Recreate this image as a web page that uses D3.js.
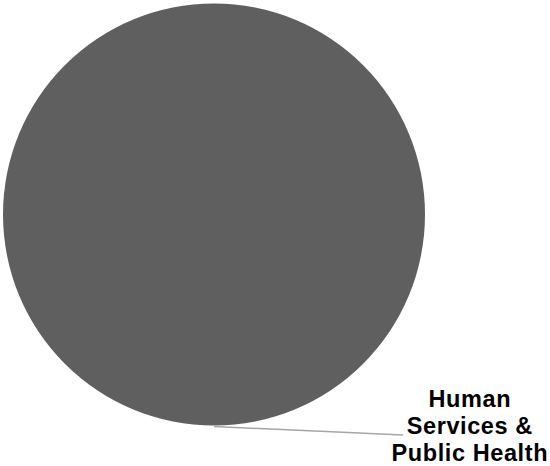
<!DOCTYPE html>
<html>
<head>
<meta charset="utf-8">
<script src="https://cdn.jsdelivr.net/npm/d3@7"></script>
<style>
  html, body { margin: 0; padding: 0; background: #fff; }
  svg { display: block; }
</style>
</head>
<body>
<svg width="550" height="466"></svg>
<script>
const categories = ["Human Services & Public Health"];
const values = [100];
const labelLines = [["Human", "Services &", "Public Health"]];

const cx = 214;
const cy = 214.5;
const radius = 211;
const sliceColor = "#5f5f5f";

let svg = d3.select("svg");
let g = svg.append("g").attr("transform", `translate(${cx},${cy})`);

let pie = d3.pie().sort(null).startAngle(0).endAngle(2 * Math.PI);
let arcs = pie(values);
let arc = d3.arc().innerRadius(0).outerRadius(radius);

g.selectAll(".slice")
    .data(arcs)
    .join("path")
    .attr("class", "slice")
    .attr("fill", sliceColor)
    .attr("d", arc);

// leader line from slice edge at mid angle to the label
const mid = d => (d.startAngle + d.endAngle) / 2;
const edge = d => [Math.sin(mid(d)) * radius, -Math.cos(mid(d)) * radius + 1];
const lineEnd = [189, 220.5];

g.selectAll(".leader")
    .data(arcs)
    .join("line")
    .attr("class", "leader")
    .attr("stroke", "#a6a6a6")
    .attr("stroke-width", 1.5)
    .attr("x1", d => edge(d)[0]).attr("y1", d => edge(d)[1])
    .attr("x2", lineEnd[0]).attr("y2", lineEnd[1]);

let labels = g.selectAll(".label")
    .data(arcs)
    .join("text")
    .attr("class", "label")
    .attr("text-anchor", "middle")
    .attr("font-family", "Liberation Sans, Arial, sans-serif")
    .attr("font-weight", "bold")
    .attr("font-size", 23.5)
    .attr("letter-spacing", 0.6)
    .attr("fill", "#000");

labels.selectAll("tspan")
    .data((d, i) => labelLines[i])
    .join("tspan")
    .attr("x", 255.8)
    .attr("y", (t, j) => 192 + j * 27.2)
    .text(t => t);
</script>
</body>
</html>
